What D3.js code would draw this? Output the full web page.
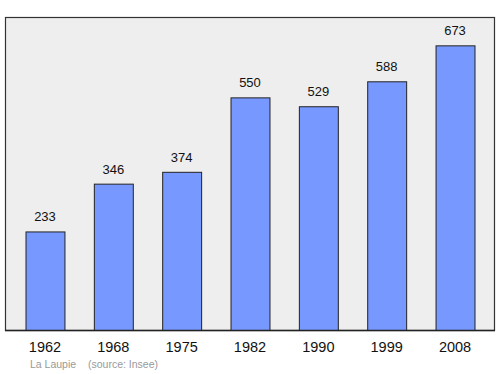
<!DOCTYPE html>
<html>
<head>
<meta charset="utf-8">
<script src="https://cdn.jsdelivr.net/npm/d3@7"></script>
<style>
  body { margin: 0; background: #fff; }
  svg { display: block; font-family: "Liberation Sans", Arial, sans-serif; }
</style>
</head>
<body>
<div id="showBox"></div>
<script>
const years = ["1962", "1968", "1975", "1982", "1990", "1999", "2008"];
const population = [233, 346, 374, 550, 529, 588, 673];
const town = "La Laupie";
const source = "(source: Insee)";

const width = 500, height = 374;
const plot = {left: 5, top: 17, right: 495, bottom: 330};

const svg = d3.select("#showBox").append("svg")
    .attr("width", width)
    .attr("height", height);

svg.append("rect")
    .attr("x", plot.left + 0.5)
    .attr("y", plot.top + 0.5)
    .attr("width", plot.right - plot.left - 1)
    .attr("height", plot.bottom - plot.top)
    .attr("fill", "#eeeeee")
    .attr("stroke", "#333")
    .attr("stroke-width", 1.2);

const x = d3.scaleBand()
    .domain(years)
    .range([plot.left, plot.right])
    .paddingInner(0.43)
    .paddingOuter(0.3);

const y = d3.scaleLinear()
    .domain([0, 740])
    .range([plot.bottom, plot.top]);

const data = years.map((yr, i) => ({year: yr, value: population[i]}));

svg.append("g")
    .selectAll("rect")
    .data(data)
    .join("rect")
    .attr("x", d => x(d.year) + 0.5)
    .attr("y", d => y(d.value) + 0.5)
    .attr("width", x.bandwidth())
    .attr("height", d => plot.bottom - y(d.value))
    .attr("fill", "#7799ff")
    .attr("stroke", "#222")
    .attr("stroke-width", 1);

svg.append("g")
    .attr("font-size", 13)
    .attr("text-anchor", "middle")
    .attr("fill", "#111")
    .selectAll("text")
    .data(data)
    .join("text")
    .attr("x", d => x(d.year) + x.bandwidth() / 2)
    .attr("y", d => y(d.value) - 10)
    .text(d => d.value);

// year labels
svg.append("g")
    .attr("font-size", 14.5)
    .attr("text-anchor", "middle")
    .attr("fill", "#111")
    .selectAll("text")
    .data(years)
    .join("text")
    .attr("x", d => x(d) + x.bandwidth() / 2)
    .attr("y", 352)
    .text(d => d);

// axis line
svg.append("line")
    .attr("x1", plot.left).attr("x2", plot.right)
    .attr("y1", plot.bottom + 0.5).attr("y2", plot.bottom + 0.5)
    .attr("stroke", "#222")
    .attr("stroke-width", 1.5);

svg.append("text")
    .attr("x", 30).attr("y", 368)
    .attr("font-size", 10.5)
    .attr("fill", "#999")
    .text(town);

svg.append("text")
    .attr("x", 88).attr("y", 368)
    .attr("font-size", 10.5)
    .attr("fill", "#999")
    .text(source);
</script>
</body>
</html>
